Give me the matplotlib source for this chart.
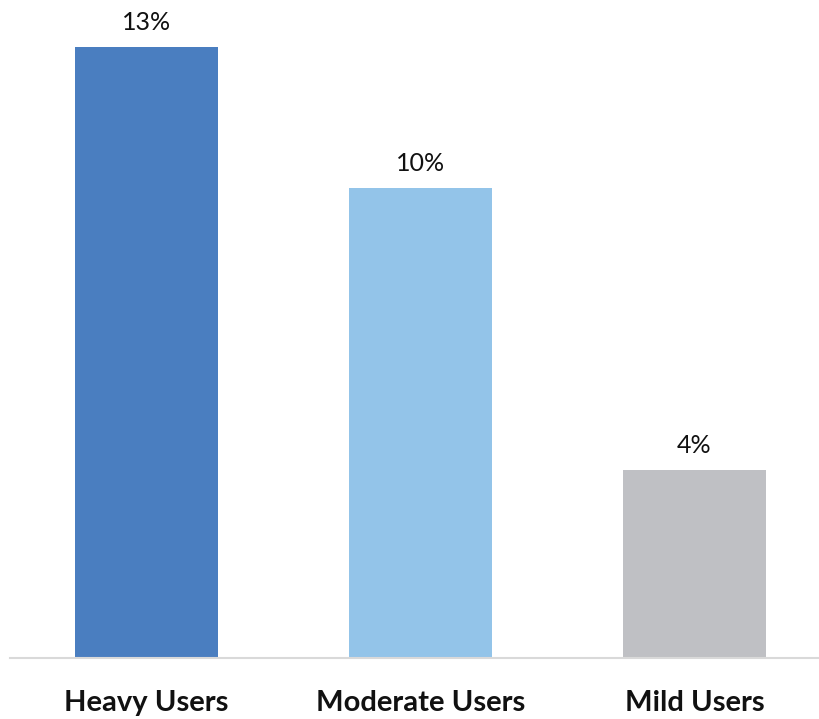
import matplotlib
matplotlib.use("Agg")
from matplotlib import pyplot as plt

# dados do gráfico
categorias = ["Heavy Users", "Moderate Users", "Mild Users"]
valores = [13, 10, 4]
cores = ["#4A7EC0", "#93C4E9", "#BFC0C4"]

plt.rcParams['font.family'] = ['Lato', 'DejaVu Sans']

fig = plt.figure(figsize=(8.2, 7.19), dpi=100)
# eixo um pouco mais largo que a figura, como no original
ax = fig.add_axes([9.5 / 820, 61 / 719, 822 / 820, 658 / 719])

x = range(len(categorias))
barras = ax.bar(x, valores, width=0.52, color=cores)

for b, v in zip(barras, valores):
    ax.text(b.get_x() + b.get_width() / 2, v + 0.27, f"{v}%",
            ha="center", va="bottom", fontsize=18, color="#111111")

ax.set_xlim(-0.5, 2.5)
ax.set_ylim(0, 14)
ax.set_xticks(list(x))
ax.set_xticklabels(categorias, fontsize=21, fontweight="bold", color="#111111")
ax.tick_params(axis="x", length=0, pad=23)
ax.set_yticks([])

for lado in ["top", "right", "left"]:
    ax.spines[lado].set_visible(False)
ax.spines["bottom"].set_color("#D9D9D9")
ax.spines["bottom"].set_linewidth(1.5)

plt.savefig("out.png", dpi=100)
